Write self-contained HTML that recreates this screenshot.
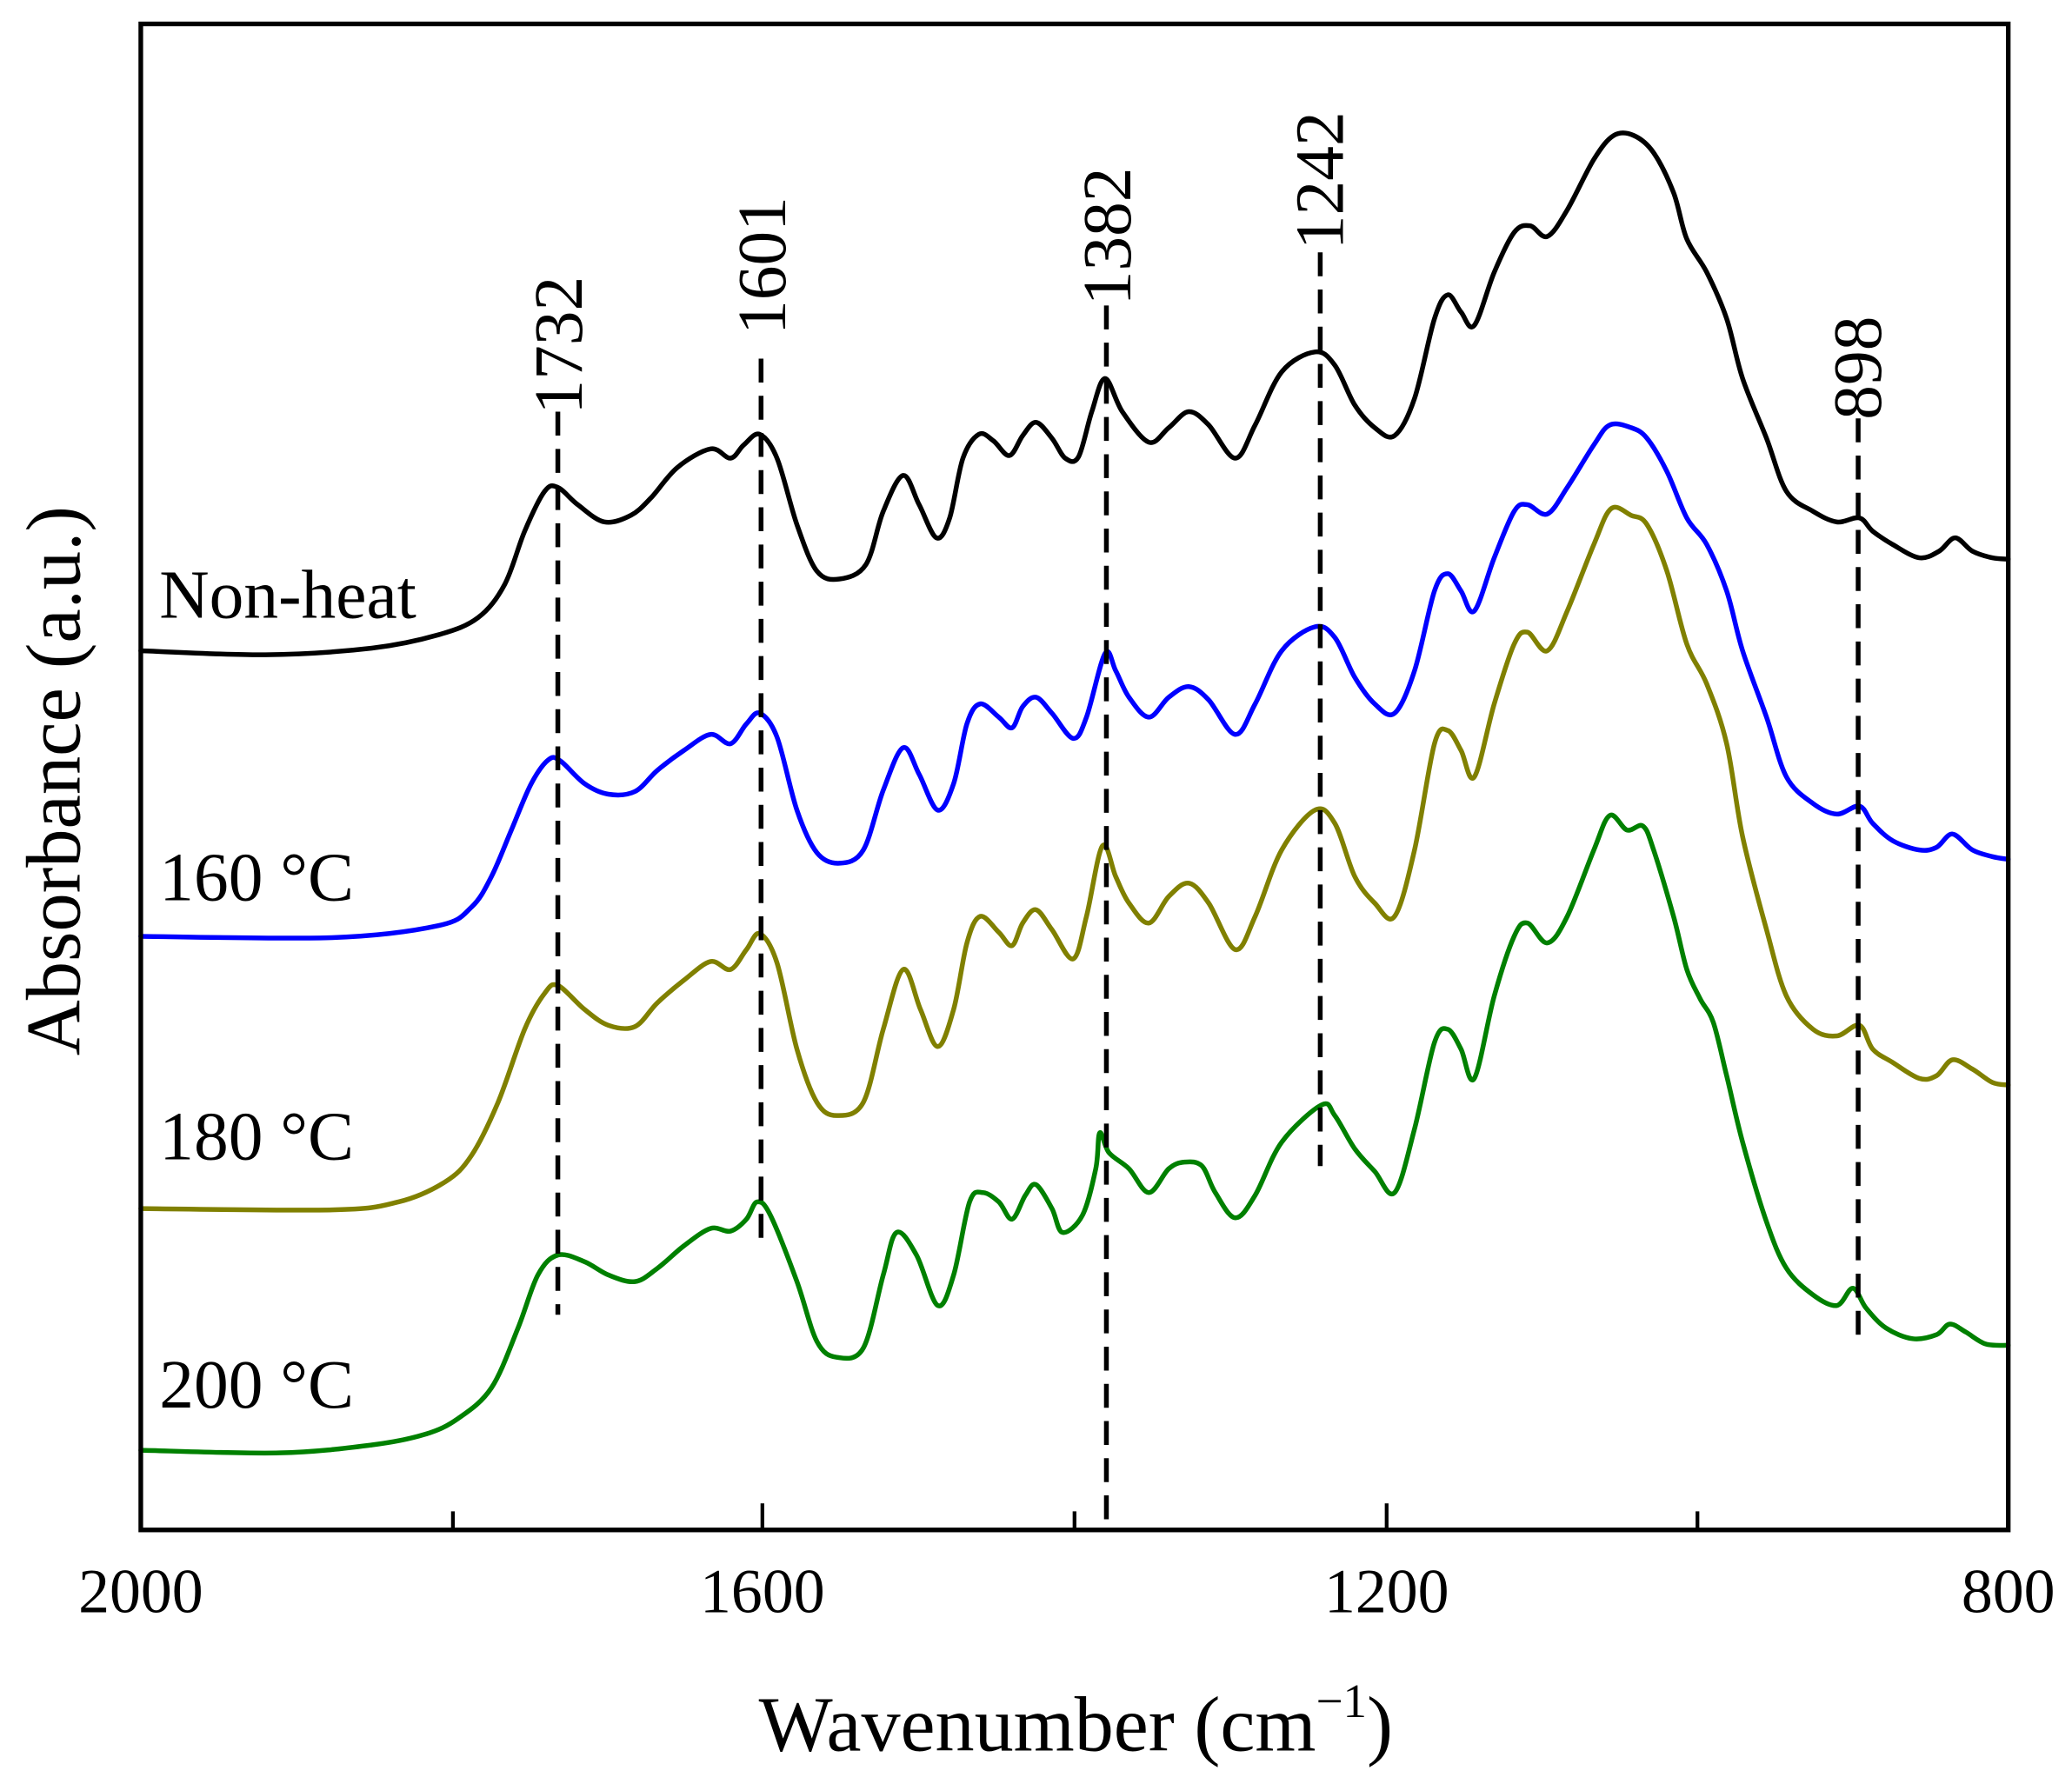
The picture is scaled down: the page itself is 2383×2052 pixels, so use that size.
<!DOCTYPE html>
<html><head><meta charset="utf-8"><style>html,body{margin:0;padding:0;background:#fff}svg{display:block}</style></head>
<body>
<svg id="s" width="2383" height="2052" viewBox="0 0 1560 1343.3" xmlns="http://www.w3.org/2000/svg" font-family="Liberation Serif, serif">
<rect x="0" y="0" width="1560" height="1344" fill="#fff"/>
<g fill="none" stroke-width="3.6" stroke-linejoin="round" stroke-linecap="round">
<polyline class="c" stroke="#000" points="106,490 200,493 280,488 330,478 360,465 380,440 395,400 410,370 420,367 435,380 455,393 475,388 490,375 510,352 535,338 550,345 560,335 572,327 585,345 600,395 615,430 632,436 652,425 665,385 680,358 692,380 705,405 715,390 725,345 737,327 748,332 760,343 770,328 780,318 792,330 802,345 812,344 822,310 832,285 845,310 865,333 880,322 895,310 910,320 930,345 945,320 965,280 990,265 1005,275 1020,305 1035,322 1050,328 1065,300 1080,240 1090,222 1100,235 1110,245 1125,205 1140,175 1152,170 1165,178 1180,158 1200,120 1215,102 1230,102 1245,115 1260,145 1270,180 1285,205 1300,240 1312,285 1330,330 1345,370 1365,385 1383,393 1400,390 1410,400 1425,410 1445,420 1460,415 1472,405 1485,415 1500,420 1512,421"/>
<polyline class="c" stroke="#0000ff" points="106,705 250,706 330,697 355,683 370,660 385,625 400,590 413,572 422,573 440,590 458,598 478,596 495,580 515,565 535,553 550,560 562,545 572,537 585,555 600,610 615,642 632,650 650,640 665,595 680,563 692,583 706,610 718,590 728,545 738,530 752,540 762,548 770,532 780,525 792,537 808,556 818,540 832,492 840,505 850,525 865,540 880,525 895,517 910,527 930,553 945,530 965,490 990,472 1005,480 1020,510 1035,530 1050,537 1065,505 1080,445 1090,432 1100,445 1110,460 1125,420 1140,385 1150,380 1165,387 1180,367 1200,335 1212,320 1228,322 1240,330 1255,355 1270,390 1285,410 1300,445 1312,490 1330,540 1345,585 1365,605 1383,613 1400,607 1410,620 1425,633 1445,640 1458,638 1470,628 1485,640 1500,645 1512,647"/>
<polyline class="c" stroke="#808000" points="106,910 250,911 300,905 335,890 355,870 375,830 395,775 410,748 420,742 440,760 458,772 478,773 495,755 515,738 535,724 550,730 562,715 572,703 585,725 600,790 615,830 630,840 650,830 665,775 680,730 693,760 706,788 718,760 728,710 738,690 752,702 762,712 770,695 780,685 792,700 808,722 818,690 830,637 840,660 850,680 865,695 880,675 895,665 910,680 930,715 945,690 965,640 990,610 1005,620 1020,660 1035,680 1050,690 1065,640 1080,560 1090,550 1100,565 1110,585 1125,530 1140,485 1150,476 1165,490 1180,460 1200,410 1213,383 1228,388 1240,395 1255,430 1270,485 1285,515 1300,560 1312,630 1330,700 1345,750 1365,775 1383,780 1400,772 1410,790 1425,800 1445,812 1458,810 1470,798 1485,805 1500,815 1512,817"/>
<polyline class="c" stroke="#008000" points="106,1092 210,1094 280,1088 320,1080 345,1068 370,1045 390,1000 405,960 420,945 440,950 458,960 478,965 495,955 515,938 535,925 550,927 562,918 570,905 580,915 600,965 615,1010 630,1022 650,1015 665,960 675,928 690,945 706,983 718,960 730,905 740,898 752,905 762,918 772,900 780,892 792,910 800,928 815,915 825,880 828,853 835,868 850,880 865,898 880,880 892,875 905,878 915,898 930,917 945,900 965,860 995,832 1005,840 1020,865 1035,882 1050,898 1065,850 1080,785 1090,775 1100,790 1110,812 1125,750 1140,705 1150,695 1165,710 1180,690 1200,640 1212,614 1225,625 1237,622 1245,640 1260,690 1270,730 1280,752 1290,770 1300,810 1312,860 1330,920 1345,955 1365,975 1383,983 1395,970 1405,985 1420,1000 1440,1008 1458,1005 1468,997 1480,1003 1495,1012 1512,1013"/>
</g>
<g stroke="#000" stroke-width="3.6" stroke-dasharray="18,10" fill="none">
<line x1="420" y1="310" x2="420" y2="990"/>
<line x1="573" y1="270" x2="573" y2="940"/>
<line x1="833" y1="230" x2="833" y2="1150"/>
<line x1="994" y1="190" x2="994" y2="878"/>
<line x1="1399" y1="315" x2="1399" y2="1008"/>
</g>
<g font-size="52" fill="#000">
<text transform="translate(438,312) rotate(-90)">1732</text>
<text transform="translate(591,252) rotate(-90)">1601</text>
<text transform="translate(851,230) rotate(-90)">1382</text>
<text transform="translate(1011,188) rotate(-90)">1242</text>
<text transform="translate(1416,316) rotate(-90)">898</text>
<text x="120" y="465">Non-heat</text>
<text x="120" y="678">160 °C</text>
<text x="120" y="873">180 °C</text>
<text x="120" y="1060">200 °C</text>
</g>
<rect x="106" y="18" width="1406" height="1134" fill="none" stroke="#000" stroke-width="3.5"/>
<g stroke="#000" stroke-width="2.8">
<line x1="574" y1="1152" x2="574" y2="1132"/>
<line x1="1044" y1="1152" x2="1044" y2="1132"/>
<line x1="341" y1="1152" x2="341" y2="1138"/>
<line x1="809" y1="1152" x2="809" y2="1138"/>
<line x1="1278" y1="1152" x2="1278" y2="1138"/>
</g>
<g font-size="47" fill="#000" text-anchor="middle">
<text x="106" y="1214">2000</text>
<text x="574" y="1214">1600</text>
<text x="1044" y="1214">1200</text>
<text x="1512" y="1214">800</text>
</g>
<text x="810" y="1318" font-size="59" text-anchor="middle">Wavenumber (cm<tspan font-size="36" dy="-25">−1</tspan><tspan dy="25">)</tspan></text>
<text transform="translate(60,588) rotate(-90)" font-size="58" text-anchor="middle">Absorbance (a.u.)</text>
</svg>
<script>
document.querySelectorAll('polyline.c').forEach(function(pl){
  var p=pl.getAttribute('points').trim().split(/\s+/).map(function(s){return s.split(',').map(Number);});
  var d='M'+p[0][0]+','+p[0][1];
  for(var i=0;i<p.length-1;i++){
    var p0=p[i-1]||p[i],p1=p[i],p2=p[i+1],p3=p[i+2]||p2;
    var c1x=p1[0]+(p2[0]-p0[0])/6,c1y=p1[1]+(p2[1]-p0[1])/6;
    var c2x=p2[0]-(p3[0]-p1[0])/6,c2y=p2[1]-(p3[1]-p1[1])/6;
    d+=' C'+c1x.toFixed(1)+','+c1y.toFixed(1)+' '+c2x.toFixed(1)+','+c2y.toFixed(1)+' '+p2[0]+','+p2[1];
  }
  var path=document.createElementNS('http://www.w3.org/2000/svg','path');
  path.setAttribute('d',d);path.setAttribute('stroke',pl.getAttribute('stroke'));
  pl.parentNode.replaceChild(path,pl);
});
</script>
</body></html>
